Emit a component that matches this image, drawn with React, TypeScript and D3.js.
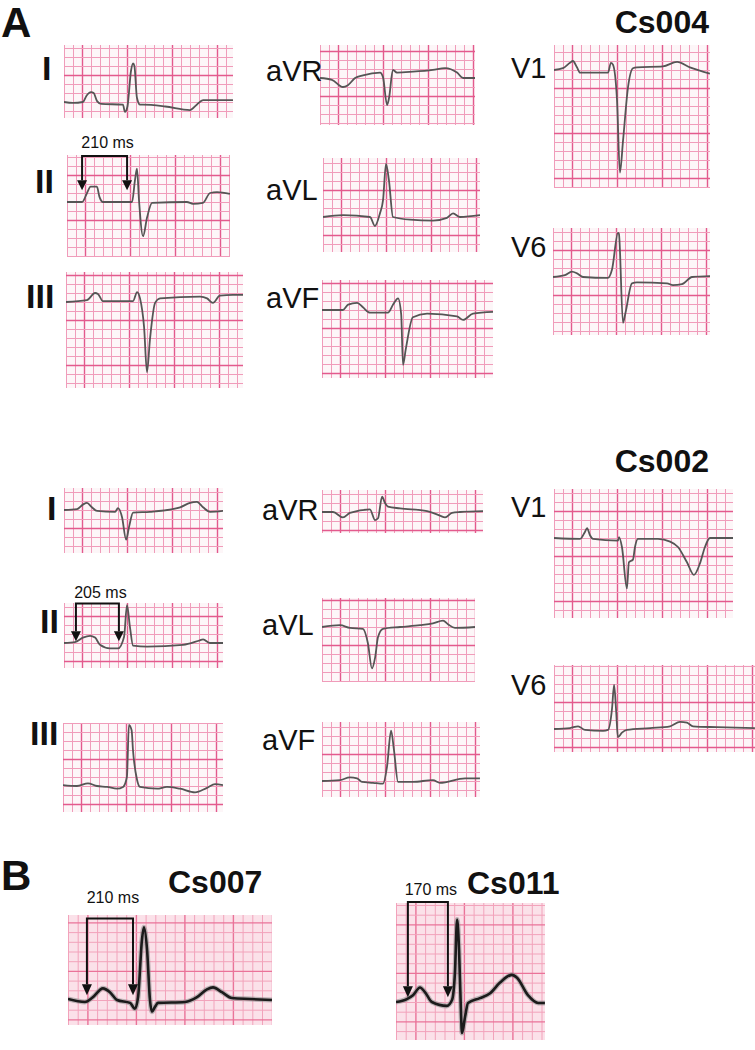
import React from 'react';
import * as d3 from 'd3';

type Pt = [number, number]; // [time ms, amplitude mV]

// ---- Cs004 (panel A, top) ----
const cs004I: Pt[] = [[0,0],[40,-0.01],[84,0.0],[100,0.07],[120,0.11],[132,0.10],[147,0.01],[165,-0.02],[262,-0.03],[271,-0.11],[282,-0.05],[298,0.35],[307,0.43],[313,0.40],[324,0.05],[338,-0.03],[351,-0.03],[450,-0.05],[560,-0.09],[590,-0.03],[618,0.02],[671,0.02],[751,0.02]];
const cs004II: Pt[] = [[0,0],[67,0],[89,0.10],[105,0.17],[133,0.17],[144,0.06],[160,0],[289,0],[302,0.24],[311,0.37],[320,0.02],[338,-0.38],[356,-0.17],[378,-0.01],[533,0],[560,-0.02],[604,-0.01],[636,0.10],[667,0.11],[724,0.09]];
const cs004III: Pt[] = [[0,0],[93,0.02],[129,0.10],[142,0.09],[164,0.01],[298,0.01],[316,0.11],[329,0.04],[347,-0.28],[360,-0.78],[373,-0.42],[396,-0.01],[418,0.04],[596,0.06],[627,0.04],[653,-0.01],[684,0.07],[742,0.08],[787,0.08]];
const cs004aVR: Pt[] = [[0,0],[53,-0.02],[102,-0.10],[124,-0.08],[156,0],[191,0.03],[267,0.06],[280,0.01],[298,-0.30],[307,-0.22],[324,0.09],[342,0.06],[413,0.07],[502,0.09],[556,0.11],[609,0.06],[636,0],[689,0]];
const cs004aVL: Pt[] = [[0,0],[89,0.02],[209,0],[231,-0.10],[253,0.04],[267,0.19],[280,0.59],[293,0.41],[311,0],[387,-0.03],[489,-0.04],[551,-0.01],[578,0.04],[609,0],[698,0.02]];
const cs004aVF: Pt[] = [[0,0],[93,0],[116,0.06],[156,0.08],[182,0.03],[213,-0.03],[293,-0.03],[316,0.06],[338,0.13],[352,-0.05],[360,-0.61],[372,-0.44],[404,-0.08],[467,-0.04],[600,-0.07],[627,-0.11],[671,-0.04],[760,-0.02]];
const cs004V1: Pt[] = [[0,0],[40,0.02],[71,0.08],[84,0.10],[102,0.03],[116,-0.03],[240,-0.03],[253,0.08],[262,0.06],[280,-0.33],[293,-1.14],[307,-0.78],[329,-0.19],[351,0.02],[369,0.03],[484,0.04],[547,0.09],[604,0.03],[693,-0.04]];
const cs004V6: Pt[] = [[0,0],[53,0.02],[84,0.06],[107,0.04],[133,0],[244,-0.01],[262,0.08],[289,0.49],[293,0.48],[311,-0.51],[322,-0.40],[351,-0.07],[373,-0.06],[507,-0.07],[533,-0.09],[573,-0.08],[618,0],[698,0.01]];

// ---- Cs002 (panel A, bottom) ----
const cs002I: Pt[] = [[0,0],[58,0.01],[84,0.06],[102,0.08],[124,0.03],[147,-0.01],[227,-0.02],[240,0.02],[258,-0.08],[276,-0.33],[289,-0.19],[307,-0.03],[382,-0.02],[516,0.03],[560,0.08],[591,0.09],[618,0.03],[649,-0.02],[707,-0.01]];
const cs002II: Pt[] = [[0,0],[49,0.01],[84,0.06],[116,0.08],[138,0.06],[160,-0.02],[204,-0.06],[240,-0.06],[267,0.07],[280,0.42],[293,0.18],[307,-0.03],[369,-0.04],[529,-0.02],[604,0.03],[618,0.04],[649,0],[707,0]];
const cs002III: Pt[] = [[0,0.01],[62,0],[111,0.03],[151,0],[196,-0.01],[240,-0.03],[267,-0.01],[284,0.10],[293,0.68],[305,0.62],[311,0.40],[329,0.07],[342,-0.01],[418,-0.03],[462,-0.01],[520,-0.03],[587,-0.07],[640,-0.02],[676,0.02],[711,0.01]];
const cs002aVR: Pt[] = [[0,0],[49,0],[93,-0.06],[124,-0.01],[213,0.03],[236,-0.09],[249,-0.07],[267,0.17],[280,0.10],[293,0.06],[347,0.04],[467,0.01],[524,-0.04],[547,-0.06],[578,-0.01],[613,0],[716,0.01]];
const cs002aVL: Pt[] = [[0,0],[80,0.02],[124,-0.01],[182,-0.02],[204,-0.18],[222,-0.46],[236,-0.34],[249,-0.11],[271,-0.02],[347,0],[436,0.02],[493,0.04],[538,0.07],[560,0.03],[591,-0.01],[680,0]];
const cs002aVF: Pt[] = [[0,0],[80,0.01],[124,0.04],[156,0.03],[178,-0.01],[227,-0.02],[271,-0.03],[289,0.16],[307,0.56],[320,0.34],[338,-0.01],[404,-0.01],[493,0.01],[524,-0.02],[636,0.03],[702,0.03]];
const cs002V1: Pt[] = [[0,0],[116,-0.01],[138,0.07],[147,0.11],[160,0.03],[173,-0.01],[284,-0.03],[289,0.01],[302,-0.10],[324,-0.56],[333,-0.27],[351,-0.24],[360,-0.10],[373,-0.01],[462,-0.01],[516,-0.04],[551,-0.10],[591,-0.27],[622,-0.41],[649,-0.28],[671,-0.10],[693,0],[796,0]];
const cs002V6: Pt[] = [[0,0],[71,0.01],[107,0.03],[138,-0.01],[218,-0.02],[240,-0.01],[258,0.23],[267,0.49],[276,0.21],[284,-0.09],[302,-0.04],[324,-0.01],[427,0.01],[516,0.03],[560,0.08],[591,0.07],[618,0.03],[724,0.02],[893,0.01]];

// ---- Panel B, lead II ----
const cs007II: Pt[] = [[0,0.01],[70,-0.02],[103,0.03],[144,0.12],[173,0.08],[202,0],[256,-0.03],[276,-0.09],[289,0.03],[305,0.62],[313,0.75],[326,0.52],[338,0],[346,-0.12],[359,-0.07],[371,-0.03],[483,-0.02],[532,0.03],[573,0.11],[598,0.13],[635,0.08],[676,0.02],[751,0.01],[841,0]];
const cs011II: Pt[] = [[0,0],[45,0.03],[70,0.07],[99,0.15],[120,0.10],[148,0],[210,-0.04],[231,0.02],[243,0.30],[252,0.85],[260,0.54],[268,-0.11],[272,-0.32],[285,-0.15],[297,-0.01],[346,0.04],[388,0.09],[429,0.20],[478,0.28],[499,0.25],[544,0.07],[586,-0.01],[614,-0.01]];

// PR interval brackets: start/end in ms, top/tip/label height in mV
const prCs004 = { start: 67, end: 267, top: 0.51, tip: 0.13, textV: 0.6, text: '210 ms' };
const prCs002 = { start: 53, end: 244, top: 0.44, tip: 0.02, textV: 0.5, text: '205 ms' };
const prCs007 = { start: 78, end: 268, top: 0.84, tip: 0.05, textV: 1.0, text: '210 ms' };
const prCs011 = { start: 49, end: 214, top: 1.03, tip: 0.05, textV: 1.1, text: '170 ms' };

const FONT = 'Arial, "Liberation Sans", Helvetica, sans-serif';

type PR = typeof prCs004;
interface Panel {
  lead: string; data: Pt[];
  x: number; y: number; w: number; h: number; zero: number; sq: number;
  lx?: number; ly?: number; roman?: boolean; big?: boolean; pr?: PR;
}

const panels: Panel[] = [
  { lead: 'I', data: cs004I, x: 64, y: 45, w: 169, h: 73, zero: 102, sq: 9, lx: 42, ly: 80, roman: true },
  { lead: 'II', data: cs004II, x: 67, y: 155, w: 163, h: 102, zero: 202, sq: 9, lx: 35, ly: 193, roman: true, pr: prCs004 },
  { lead: 'III', data: cs004III, x: 66, y: 272, w: 177, h: 116, zero: 302, sq: 9, lx: 26, ly: 308, roman: true },
  { lead: 'aVR', data: cs004aVR, x: 320, y: 45, w: 155, h: 80, zero: 78, sq: 9, lx: 266, ly: 81 },
  { lead: 'aVL', data: cs004aVL, x: 323, y: 158, w: 157, h: 94, zero: 217, sq: 9, lx: 266, ly: 200 },
  { lead: 'aVF', data: cs004aVF, x: 322, y: 280, w: 171, h: 98, zero: 310, sq: 9, lx: 266, ly: 308 },
  { lead: 'V1', data: cs004V1, x: 554, y: 45, w: 156, h: 143, zero: 70, sq: 9, lx: 511, ly: 78 },
  { lead: 'V6', data: cs004V6, x: 553, y: 228, w: 157, h: 107, zero: 277, sq: 9, lx: 511, ly: 257 },

  { lead: 'I', data: cs002I, x: 64, y: 488, w: 159, h: 65, zero: 510, sq: 9, lx: 47, ly: 520, roman: true },
  { lead: 'II', data: cs002II, x: 64, y: 603, w: 159, h: 65, zero: 643, sq: 9, lx: 40, ly: 633, roman: true, pr: prCs002 },
  { lead: 'III', data: cs002III, x: 63, y: 723, w: 160, h: 89, zero: 786, sq: 9, lx: 30, ly: 745, roman: true },
  { lead: 'aVR', data: cs002aVR, x: 322, y: 490, w: 161, h: 43, zero: 512, sq: 9, lx: 262, ly: 520 },
  { lead: 'aVL', data: cs002aVL, x: 322, y: 598, w: 153, h: 84, zero: 627, sq: 9, lx: 262, ly: 635 },
  { lead: 'aVF', data: cs002aVF, x: 322, y: 722, w: 158, h: 75, zero: 781, sq: 9, lx: 262, ly: 750 },
  { lead: 'V1', data: cs002V1, x: 554, y: 489, w: 179, h: 129, zero: 538, sq: 9, lx: 511, ly: 517 },
  { lead: 'V6', data: cs002V6, x: 554, y: 665, w: 201, h: 87, zero: 729, sq: 9, lx: 511, ly: 695 },

  { lead: 'II', data: cs007II, x: 68, y: 915, w: 204, h: 110, zero: 1000, sq: 9.7, big: true, pr: prCs007 },
  { lead: 'II', data: cs011II, x: 396, y: 903, w: 149, h: 137, zero: 1002, sq: 9.7, big: true, pr: prCs011 },
];

const titles = [
  { text: 'A', x: 1, y: 37, size: 42, anchor: 'start' },
  { text: 'Cs004', x: 709, y: 33, size: 32, anchor: 'end' },
  { text: 'Cs002', x: 709, y: 472, size: 32, anchor: 'end' },
  { text: 'B', x: 1, y: 890, size: 42, anchor: 'start' },
  { text: 'Cs007', x: 168, y: 893, size: 32, anchor: 'start' },
  { text: 'Cs011', x: 467, y: 894, size: 32, anchor: 'start' },
];

const EcgPanel = ({ p, idx }: { p: Panel; idx: number }) => {
  const x = d3.scaleLinear().domain([0, 40]).range([p.x, p.x + p.sq]);
  const y = d3.scaleLinear().domain([0, 0.1]).range([p.zero, p.zero - p.sq]);

  const tMax = x.invert(p.x + p.w);
  const vCols = d3.range(0, Math.floor(tMax / 40) + 1);
  const kTop = Math.floor(y.invert(p.y) / 0.1 + 1e-6);
  const kBot = Math.ceil(y.invert(p.y + p.h) / 0.1 - 1e-6);
  const hRows = d3.range(kBot, kTop + 1);

  const line = d3.line<Pt>().x(d => x(d[0])).y(d => y(d[1])).curve(d3.curveMonotoneX);

  const minor = p.big ? '#f2a3bb' : '#f09cba';
  const major = p.big ? '#ea7399' : '#e35a8d';
  const clipId = `clip-${idx}`;

  let bracket = null;
  if (p.pr) {
    const xs = x(p.pr.start), xe = x(p.pr.end), yt = y(p.pr.top), yp = y(p.pr.tip);
    const ah = p.big ? 11 : 10, aw = 5;
    bracket = (
      <g>
        <path d={`M${xs},${yp - ah}V${yt}H${xe}V${yp - ah}`} fill="none" stroke="#111" strokeWidth={2} />
        <polygon points={`${xs - aw},${yp - ah} ${xs + aw},${yp - ah} ${xs},${yp}`} fill="#111" />
        <polygon points={`${xe - aw},${yp - ah} ${xe + aw},${yp - ah} ${xe},${yp}`} fill="#111" />
        <text x={(xs + xe) / 2 + 3} y={y(p.pr.textV)} textAnchor="middle" fontSize={16} fontFamily={FONT} fill="#111">{p.pr.text}</text>
      </g>
    );
  }

  return (
    <g>
      <defs>
        <clipPath id={clipId}><rect x={p.x} y={p.y} width={p.w} height={p.h} /></clipPath>
      </defs>
      <g clipPath={`url(#${clipId})`}>
        <rect x={p.x} y={p.y} width={p.w} height={p.h} fill={p.big ? '#fbe1e9' : '#fdf6f8'} />
        {vCols.map(i => (
          <line key={`v${i}`} x1={x(i * 40) + 0.5} x2={x(i * 40) + 0.5} y1={p.y} y2={p.y + p.h}
            stroke={i % 5 === 2 ? major : minor} strokeWidth={i % 5 === 2 ? 1.4 : 1} />
        ))}
        {hRows.map(k => (
          <line key={`h${k}`} x1={p.x} x2={p.x + p.w} y1={y(k * 0.1) + 0.5} y2={y(k * 0.1) + 0.5}
            stroke={((k % 5) + 5) % 5 === 3 ? major : minor} strokeWidth={((k % 5) + 5) % 5 === 3 ? 1.4 : 1} />
        ))}
        {p.big ? (
          <>
            <path d={line(p.data) || ''} fill="none" stroke="#8a8a8a" strokeOpacity={0.55} strokeWidth={5} strokeLinejoin="round" />
            <path d={line(p.data) || ''} fill="none" stroke="#1b1b1b" strokeWidth={2.6} strokeLinejoin="round" />
          </>
        ) : (
          <path d={line(p.data) || ''} fill="none" stroke="#555" strokeWidth={1.8} strokeLinejoin="round" />
        )}
      </g>
      {p.lx !== undefined && (
        <text x={p.lx} y={p.ly} fontSize={p.roman ? 34 : 29} fontWeight={p.roman ? 'bold' : 'normal'}
          fontFamily={FONT} fill="#111">{p.lead}</text>
      )}
      {bracket}
    </g>
  );
};

export default function App() {
  return (
    <svg width={755} height={1050} style={{ position: 'absolute', left: 0, top: 0, background: '#fff' }}>
      <rect width={755} height={1050} fill="#fff" />
      {panels.map((p, i) => <EcgPanel key={i} p={p} idx={i} />)}
      {titles.map(t => (
        <text key={t.text} x={t.x} y={t.y} fontSize={t.size} fontWeight="bold" fontFamily={FONT}
          textAnchor={t.anchor as any} fill="#111">{t.text}</text>
      ))}
    </svg>
  );
}
